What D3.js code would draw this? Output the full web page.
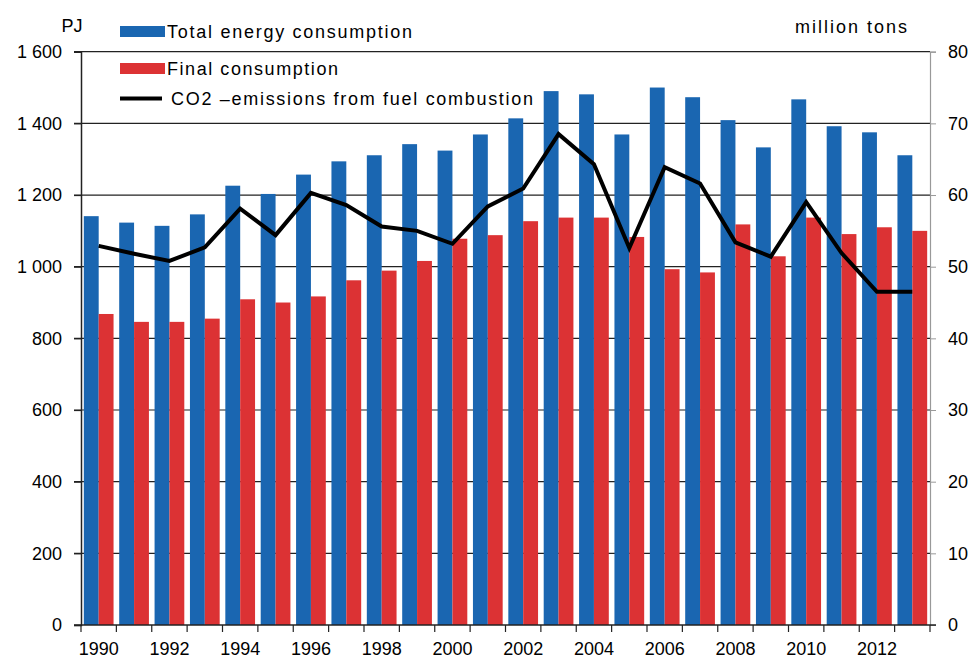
<!DOCTYPE html>
<html lang="en">
<head>
<meta charset="UTF-8">
<title>Energy consumption and CO2 emissions</title>
<script src="https://cdnjs.cloudflare.com/ajax/libs/d3/7.8.5/d3.min.js"></script>
<style>
  body { margin: 0; background: #fff; }
  svg text { font-family: "Liberation Sans", Arial, sans-serif; fill: #000; }
</style>
</head>
<body>
<div id="chart"></div>
<script>
// data
const years = d3.range(1990, 2014);
const totalEnergy = [1141, 1123, 1114, 1146, 1226, 1203, 1257, 1294, 1311, 1342, 1324, 1369,
                     1414, 1490, 1481, 1369, 1500, 1473, 1409, 1333, 1467, 1392, 1375, 1311];
const finalConsumption = [868, 846, 846, 855, 909, 900, 917, 962, 989, 1016, 1078, 1088,
                          1127, 1137, 1137, 1083, 993, 984, 1118, 1029, 1137, 1091, 1110, 1100];
const co2 = [52.9, 51.8, 50.8, 52.7, 58.1, 54.4, 60.3, 58.6, 55.6, 55.0, 53.2, 58.4,
             60.9, 68.5, 64.3, 52.6, 63.9, 61.6, 53.4, 51.4, 59.0, 51.9, 46.5, 46.5];
const leftTicks = [0, 200, 400, 600, 800, 1000, 1200, 1400, 1600];
const rightTicks = [0, 10, 20, 30, 40, 50, 60, 70, 80];
const seriesNames = ["Total energy consumption", "Final consumption", "CO2 \u2013emissions from fuel combustion"];

const width = 972, height = 658;
const plotL = 81, plotR = 930, plotT = 51.7, plotB = 625;
const blue = "#1a66b1", red = "#dc3234";

const svg = d3.select("#chart").append("svg")
    .attr("width", width).attr("height", height);

const x = d3.scaleBand().domain(years).range([plotL, plotR]);
const sub = d3.scaleBand().domain(["total", "final"]).range([0, x.bandwidth()]).paddingOuter(0.19);
const y = d3.scaleLinear().domain([0, 1600]).range([plotB, plotT]);
const y2 = d3.scaleLinear().domain([0, 80]).range([plotB, plotT]);

const fmt = v => d3.format(",")(v).replace(/,/g, " ");

// gridlines (behind bars)
svg.append("g").selectAll("line")
  .data(leftTicks.filter(d => d > 0))
  .join("line")
    .attr("x1", plotL - 7).attr("x2", plotR)
    .attr("y1", d => y(d)).attr("y2", d => y(d))
    .attr("stroke", "#222").attr("stroke-width", 1.2);

// bars
const rows = years.map((yr, i) => ({year: yr, total: totalEnergy[i], final: finalConsumption[i], co2: co2[i]}));

svg.append("g").selectAll("rect")
  .data(rows)
  .join("rect")
    .attr("x", d => x(d.year) + sub("total"))
    .attr("width", sub.bandwidth())
    .attr("y", d => y(d.total))
    .attr("height", d => y(0) - y(d.total))
    .attr("fill", blue);

svg.append("g").selectAll("rect")
  .data(rows)
  .join("rect")
    .attr("x", d => x(d.year) + sub("final"))
    .attr("width", sub.bandwidth())
    .attr("y", d => y(d.final))
    .attr("height", d => y(0) - y(d.final))
    .attr("fill", red);

// left axis
const yAxis = d3.axisLeft(y).tickValues(leftTicks).tickFormat(fmt).tickSize(7).tickPadding(12);
const gl = svg.append("g").attr("transform", `translate(${plotL},0)`).call(yAxis);
gl.select(".domain").attr("stroke", "#222").attr("stroke-width", 1.5);
gl.selectAll(".tick line").attr("stroke", "#222").attr("stroke-width", 1.2);
gl.selectAll("text").attr("font-size", 18).attr("fill", "#111");

// right axis
const yAxisR = d3.axisRight(y2).tickValues(rightTicks).tickSize(6).tickPadding(12);
const gr = svg.append("g").attr("transform", `translate(${plotR},0)`).call(yAxisR);
gr.select(".domain").attr("stroke", "#999").attr("stroke-width", 1.2);
gr.selectAll(".tick line").attr("stroke", "#999");
gr.selectAll("text").attr("font-size", 18).attr("fill", "#111");

// bottom axis: ticks on band edges, labels every other year
const gx = svg.append("g");
gx.append("line")
    .attr("x1", plotL - 7).attr("x2", plotR + 6)
    .attr("y1", plotB).attr("y2", plotB)
    .attr("stroke", "#222").attr("stroke-width", 1.5);
gx.selectAll("line.tk")
  .data(years.concat([2014]))
  .join("line")
    .attr("class", "tk")
    .attr("x1", d => d === 2014 ? plotR : x(d))
    .attr("x2", d => d === 2014 ? plotR : x(d))
    .attr("y1", plotB).attr("y2", plotB + 7)
    .attr("stroke", "#222").attr("stroke-width", 1.2);
gx.selectAll("text")
  .data(years.filter(d => d % 2 === 0))
  .join("text")
    .attr("x", d => x(d) + x.bandwidth() / 2)
    .attr("y", 655)
    .attr("text-anchor", "middle")
    .attr("font-size", 18)
    .attr("fill", "#111")
    .text(d => d);

// CO2 line
const line = d3.line()
  .x(d => x(d.year) + x.bandwidth() / 2)
  .y(d => y2(d.co2));
svg.append("path")
  .datum(rows)
  .attr("d", line)
  .attr("fill", "none")
  .attr("stroke", "#000")
  .attr("stroke-width", 4);

// unit labels
svg.append("text").attr("x", 72).attr("y", 32).attr("text-anchor", "middle")
  .attr("font-size", 18).text("PJ");
svg.append("text").attr("x", 851).attr("y", 33).attr("text-anchor", "middle")
  .attr("font-size", 18).attr("textLength", 112).attr("lengthAdjust", "spacing")
  .text("million tons");

// legend
const lg = svg.append("g");
lg.append("rect").attr("x", 120).attr("y", 26).attr("width", 45).attr("height", 11).attr("fill", blue);
lg.append("text").attr("x", 167).attr("y", 38).attr("font-size", 18)
  .attr("textLength", 245).attr("lengthAdjust", "spacing").text(seriesNames[0]);
lg.append("rect").attr("x", 120).attr("y", 63).attr("width", 45).attr("height", 11).attr("fill", red);
lg.append("text").attr("x", 167).attr("y", 75).attr("font-size", 18)
  .attr("textLength", 171).attr("lengthAdjust", "spacing").text(seriesNames[1]);
lg.append("line").attr("x1", 120).attr("x2", 162).attr("y1", 98.5).attr("y2", 98.5)
  .attr("stroke", "#000").attr("stroke-width", 4);
lg.append("text").attr("x", 171).attr("y", 105).attr("font-size", 18)
  .attr("textLength", 362).attr("lengthAdjust", "spacing").text(seriesNames[2]);
</script>
</body>
</html>
